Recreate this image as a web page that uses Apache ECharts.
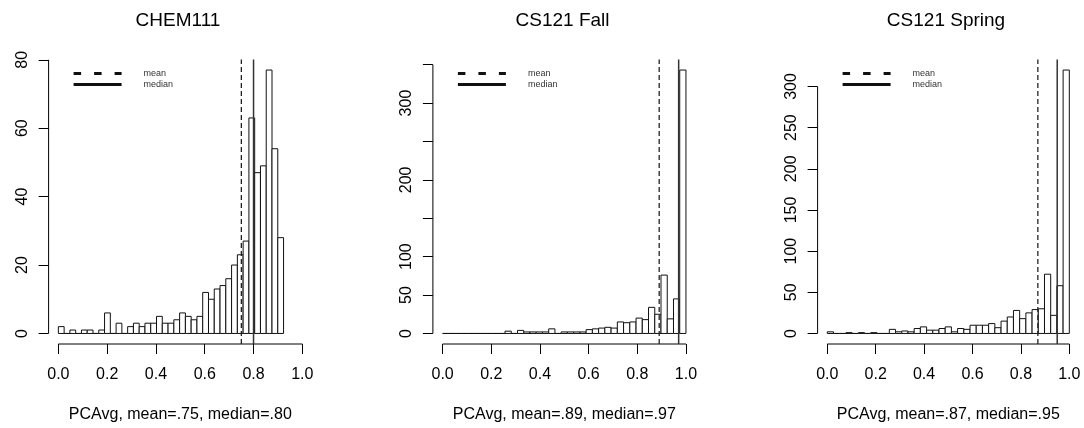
<!DOCTYPE html>
<html>
<head>
<meta charset="utf-8">
<script src="https://cdn.jsdelivr.net/npm/echarts@6/dist/echarts.min.js"></script>
<style>
  html, body { margin: 0; padding: 0; background: #fff; }
  #main { width: 1084px; height: 428px; }
</style>
</head>
<body>
<div id="main"></div>
<script>
// histogram counts, 39 equal bins each
var chemCounts = [2, 0, 1, 0, 1, 1, 0, 1, 6, 0, 3, 0, 2, 3, 2, 3, 3, 5, 3, 3, 4, 6, 5, 4, 5, 12, 10, 13, 14, 16, 20, 23, 27, 63, 47, 49, 77, 54, 28];
var fallCounts = [0, 0, 0, 0, 0, 0, 0, 0, 0, 0, 3, 0, 4, 2, 2, 2, 2, 6, 0, 2, 2, 2, 2, 5, 6, 7, 8, 7, 15, 14, 15, 20, 18, 34, 25, 76, 19, 45, 343];
var springCounts = [2, 0, 0, 1, 0, 1, 0, 1, 0, 0, 5, 2, 3, 2, 6, 8, 4, 4, 6, 8, 2, 6, 5, 10, 10, 10, 12, 7, 15, 20, 28, 18, 25, 29, 30, 72, 22, 58, 320];

var titles = ['CHEM111', 'CS121 Fall', 'CS121 Spring'];
var xNames = ['PCAvg, mean=.75, median=.80', 'PCAvg, mean=.89, median=.97', 'PCAvg, mean=.87, median=.95'];
var binRanges = [[0, 0.923], [0, 1], [0, 1]];
var means = [0.75, 0.89, 0.87];
var medians = [0.80, 0.97, 0.95];

var xTicks = [0, 0.2, 0.4, 0.6, 0.8, 1.0];
var chemYTicks = [0, 20, 40, 60, 80];
var fallYTicks = [0, 50, 100, 150, 200, 250, 300, 350];
var fallYLabels = [0, 50, 100, 200, 300];
var springYTicks = [0, 50, 100, 150, 200, 250, 300];

var counts = [chemCounts, fallCounts, springCounts];
var yTicks = [chemYTicks, fallYTicks, springYTicks];
var yLabels = [chemYTicks, fallYLabels, springYTicks];

// plot regions in px
var plotLeft = [48.6, 432.9, 817.6];
var plotWidth = [263.5, 262.8, 261.4];
var plotTop = 59.5;
var plotHeight = 286.1;
var titleX = [178, 562.5, 946];

var font = "'Liberation Sans', Arial, sans-serif";
var xPad = 0.04;

function renderBar(params, api) {
  var p0 = api.coord([api.value(0), 0]);
  var p1 = api.coord([api.value(1), api.value(2)]);
  return {
    type: 'rect',
    shape: { x: p0[0], y: p1[1], width: p1[0] - p0[0], height: p0[1] - p1[1] },
    style: { fill: '#fff', stroke: '#111', lineWidth: 1 }
  };
}

var grids = [], xAxes = [], yAxes = [], series = [], legends = [], graphics = [];

for (var i = 0; i < 3; i++) {
  var c = counts[i];
  var ymax = Math.max.apply(null, c);
  var ylo = -xPad * ymax, yhi = (1 + xPad) * ymax;
  var lo = binRanges[i][0], w = (binRanges[i][1] - binRanges[i][0]) / c.length;
  var bins = c.map(function (v, k) { return [lo + k * w, lo + (k + 1) * w, v]; });
  var yt = yTicks[i];

  grids.push({ left: plotLeft[i], top: plotTop, width: plotWidth[i], height: plotHeight });

  xAxes.push({
    gridIndex: i, type: 'value', min: -xPad, max: 1 + xPad,
    name: xNames[i], nameLocation: 'middle', nameGap: 63,
    nameTextStyle: { fontSize: 16, color: '#000', fontFamily: font },
    axisLine: { show: false, onZero: false },
    splitLine: { show: false },
    axisTick: { customValues: xTicks, length: 10, lineStyle: { color: '#000', width: 1 } },
    axisLabel: {
      customValues: xTicks, fontSize: 16, color: '#000', margin: 23, fontFamily: font,
      formatter: function (v) { return v.toFixed(1); }
    }
  });

  yAxes.push({
    gridIndex: i, type: 'value', min: ylo, max: yhi,
    axisLine: { show: false, onZero: false },
    splitLine: { show: false },
    axisTick: { customValues: yt, length: 10, lineStyle: { color: '#000', width: 1 } },
    axisLabel: { customValues: yLabels[i], rotate: 90, fontSize: 16, color: '#000', margin: 18, fontFamily: font }
  });

  series.push({
    type: 'custom', xAxisIndex: i, yAxisIndex: i, renderItem: renderBar,
    encode: { x: [0, 1], y: 2 }, data: bins, silent: true, clip: false
  });
  series.push({
    type: 'line', name: 'mean', xAxisIndex: i, yAxisIndex: i, symbol: 'none', silent: true, z: 4,
    data: [[means[i], ylo], [means[i], yhi]],
    lineStyle: { color: '#222', width: 1.3, type: [5, 3] }
  });
  series.push({
    type: 'line', name: 'median', xAxisIndex: i, yAxisIndex: i, symbol: 'none', silent: true, z: 4,
    data: [[medians[i], ylo], [medians[i], yhi]],
    lineStyle: { color: '#333', width: 1.5 }
  });
  // axis lines only over the tick span, like base R
  series.push({
    type: 'line', xAxisIndex: i, yAxisIndex: i, symbol: 'none', silent: true, clip: false,
    data: [[xTicks[0], ylo], [xTicks[xTicks.length - 1], ylo]],
    lineStyle: { color: '#000', width: 1 }
  });
  series.push({
    type: 'line', xAxisIndex: i, yAxisIndex: i, symbol: 'none', silent: true, clip: false,
    data: [[-xPad, yt[0]], [-xPad, yt[yt.length - 1]]],
    lineStyle: { color: '#000', width: 1 }
  });

  legends.push({
    left: plotLeft[i] + 18.5, top: 64, orient: 'vertical', selectedMode: false,
    itemWidth: 48, itemHeight: 10, itemGap: 2,
    itemStyle: { opacity: 0 },
    lineStyle: { width: 3 },
    textStyle: { fontSize: 9, color: '#333', fontFamily: font, padding: [0, 0, 6, 17] },
    data: [
      { name: 'mean', lineStyle: { type: [7.5, 13], width: 3, color: '#111' } },
      { name: 'median', lineStyle: { width: 3, color: '#111' } }
    ]
  });

  graphics.push({
    type: 'text', x: titleX[i], y: 21,
    style: { text: titles[i], font: '19px ' + font, fill: '#000', align: 'center', verticalAlign: 'middle' }
  });
}

var chart = echarts.init(document.getElementById('main'));
chart.setOption({
  animation: false,
  textStyle: { fontFamily: font },
  grid: grids,
  xAxis: xAxes,
  yAxis: yAxes,
  legend: legends,
  graphic: graphics,
  series: series
});
</script>
</body>
</html>
